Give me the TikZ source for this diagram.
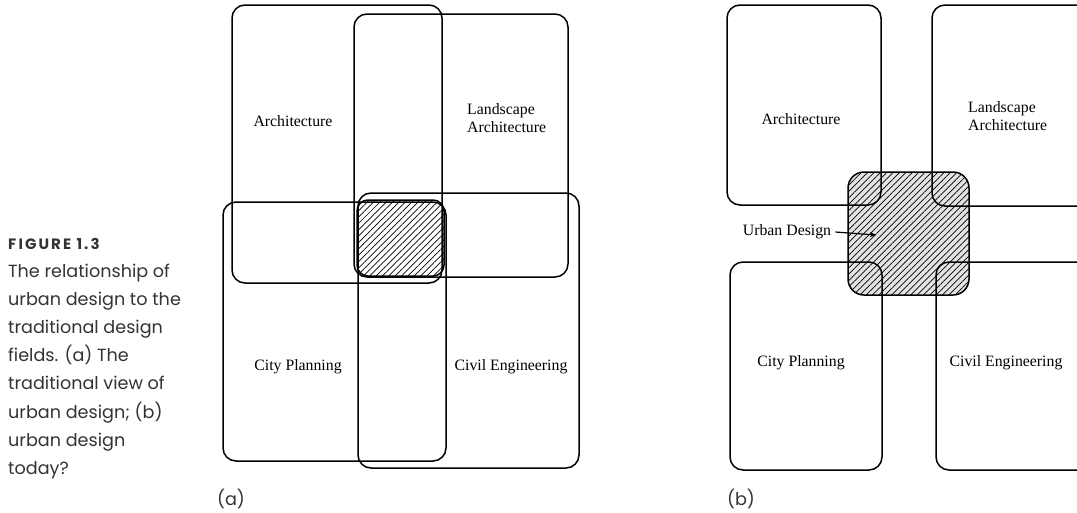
\documentclass[tikz,border=0pt]{standalone}
\usepackage{fontspec}
\setmainfont{Liberation Serif}
\newfontfamily\capfont{Poppins}
\usetikzlibrary{patterns.meta,arrows.meta}

\tikzset{
  field/.style={draw, line width=1.5pt, rounded corners=13pt},
  urban/.style={draw, line width=1.5pt, pattern={Lines[angle=45,distance=4.5pt,line width=0.7pt]}},
  fieldname/.style={font=\fontsize{15.8}{18}\selectfont, align=left, inner sep=0pt},
  capt/.style={font=\capfont\fontsize{17.6}{28.1}\selectfont, align=left, inner sep=0pt, text=black!80},
}

\begin{document}
\begin{tikzpicture}[x=1pt, y=-1pt]
        \clip (0,0) rectangle (1077,512);

        % caption
        \node[capt, anchor=north west] (caption) at (8,238)
          {{\fontsize{15}{28.1}\bfseries\addfontfeatures{LetterSpace=14}FIGURE 1.3}\\The relationship of\\urban design to the\\traditional design\\fields. (a) The\\traditional view of\\urban design; (b)\\urban design\\today?};

        % (a) traditional view
        \draw[urban, rounded corners=11pt] (357,200) rectangle (444,276);
        \draw[field] (232,5) rectangle (442,283);
        \draw[field] (354,14) rectangle (568,277);
        \draw[field] (223,202) rectangle (446,461);
        \draw[field] (358,193) rectangle (579,468);

        \node[fieldname] (archA) at (293,121) {Architecture};
        \node[fieldname, anchor=west] (landA) at (467,118) {Landscape\\Architecture};
        \node[fieldname] (cityA) at (298,367) {City Planning};
        \node[fieldname] (civilA) at (511,367) {Civil Engineering};
        \node[capt] (labelA) at (231,499) {(a)};

        % (b) urban design today
        \fill[gray!22, rounded corners=16pt] (848,172) rectangle (969,295);
        \draw[urban, rounded corners=16pt] (848,172) rectangle (969,295);
        \draw[field] (727,5) rectangle (881,205);
        \draw[field] (932,5) rectangle (1095,206);
        \draw[field] (730,262) rectangle (882,470);
        \draw[field] (936,262) rectangle (1095,470);

        \node[fieldname] (archB) at (801,119) {Architecture};
        \node[fieldname, anchor=west] (landB) at (968,116) {Landscape\\Architecture};
        \node[fieldname] (cityB) at (801,363) {City Planning};
        \node[fieldname] (civilB) at (1006,363) {Civil Engineering};
        \node[fieldname] (urbanB) at (787,232) {Urban Design};
        \coordinate (urbantip) at (876,235);
        \draw[line width=1.2pt, -{Stealth[length=6pt,width=5pt]}] (urbanB.east) ++(4,0) -- (urbantip);
        \node[capt] (labelB) at (741,499) {(b)};
\end{tikzpicture}
\end{document}
